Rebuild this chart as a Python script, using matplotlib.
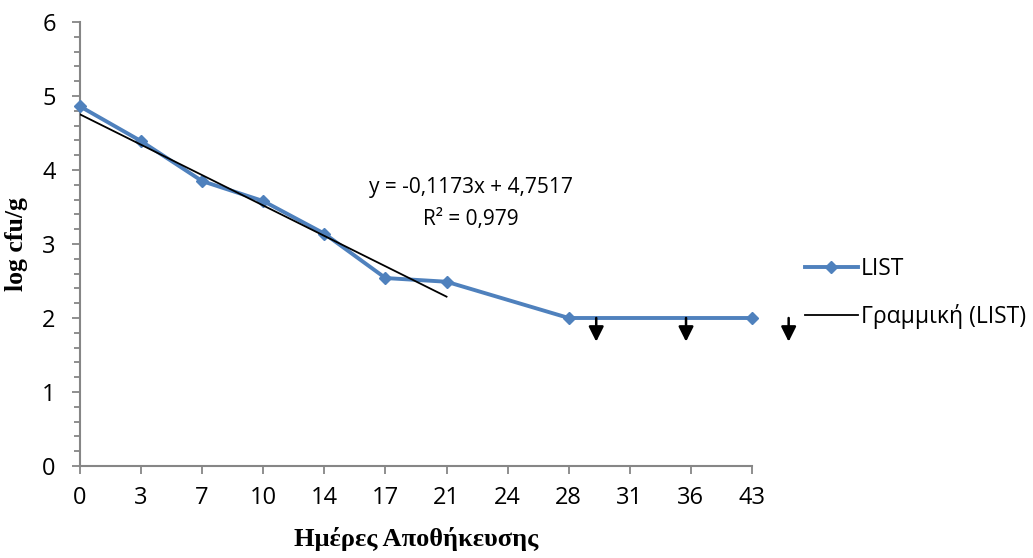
import matplotlib
matplotlib.use("Agg")
import matplotlib.pyplot as plt
import numpy as np

# storage days (category axis) and log counts for LIST
days = ["0", "3", "7", "10", "14", "17", "21", "24", "28", "31", "36", "43"]
log_cfu = [4.86, 4.39, 3.85, 3.58, 3.14, 2.54, 2.49, np.nan, 2.00, np.nan, np.nan, 2.00]

# linear trendline fitted on days 0..21
slope = -0.1173
intercept = 4.7517
trend_days = [0, 21]
trend_idx = [0, 6]

# "below detection limit" arrows (category positions, starting value)
arrow_pos = [8.45, 9.92, 11.6]
arrow_top = 2.0

blue = "#4F81BD"
grey = "#868686"
sans = ["Open Sans", "DejaVu Sans"]
serif = ["Liberation Serif", "DejaVu Serif"]

plt.rcParams["font.family"] = sans

fig = plt.figure(figsize=(10.33, 5.58), dpi=100)
ax = fig.add_axes([80 / 1033, 1 - 466 / 558, 672 / 1033, 444 / 558])

x = np.arange(len(days))
y = np.array(log_cfu)
ok = ~np.isnan(y)
ax.plot(x[ok], y[ok], color=blue, lw=2.8, marker="D", ms=6.5,
        mfc=blue, mec=blue, label="LIST", zorder=3, clip_on=False)

trend_y = [intercept + slope * d for d in trend_days]
ax.plot(trend_idx, trend_y, color="black", lw=1.3,
        label="Γραμμική (LIST)", zorder=4)

for p in arrow_pos:
    ax.annotate("", xy=(p, arrow_top - 0.32), xytext=(p, arrow_top),
                annotation_clip=False,
                arrowprops=dict(arrowstyle="-|>,head_width=0.45,head_length=0.9",
                                color="black", lw=1.8, shrinkA=0, shrinkB=0))

ax.text(6.4, 3.55, "y = -0,1173x + 4,7517\nR² = 0,979", ha="center",
        va="center", fontsize=15, linespacing=1.65)

ax.set_xlim(0, len(days) - 1)
ax.set_ylim(0, 6)
ax.set_xticks(x)
ax.set_xticklabels(days)
ax.set_yticks(range(0, 7))
ax.set_yticks(np.arange(0, 6.01, 0.2), minor=True)

for s in ["top", "right"]:
    ax.spines[s].set_visible(False)
for s in ["left", "bottom"]:
    ax.spines[s].set_color(grey)
    ax.spines[s].set_linewidth(1.5)

ax.tick_params(axis="both", which="major", length=5.5, width=1.3, color=grey,
               labelsize=17)
ax.tick_params(axis="y", which="major", pad=12)
ax.tick_params(axis="x", which="major", pad=9)
ax.tick_params(axis="y", which="minor", length=4, width=1.3, color=grey)
ax.tick_params(axis="x", which="minor", length=0)

ax.set_xlabel("Ημέρες Αποθήκευσης", fontsize=19, fontweight="bold",
              family=serif, labelpad=12)
ax.set_ylabel("log cfu/g", fontsize=18.5, fontweight="bold", family=serif,
              labelpad=10)

leg = fig.legend(loc="center left", bbox_to_anchor=(805 / 1033, 1 - 293 / 558),
                 frameon=False, fontsize=16.5, handlelength=2.3,
                 labelspacing=1.0, handletextpad=0.15, borderpad=0,
                 borderaxespad=0)

fig.savefig("out.png", dpi=100)
